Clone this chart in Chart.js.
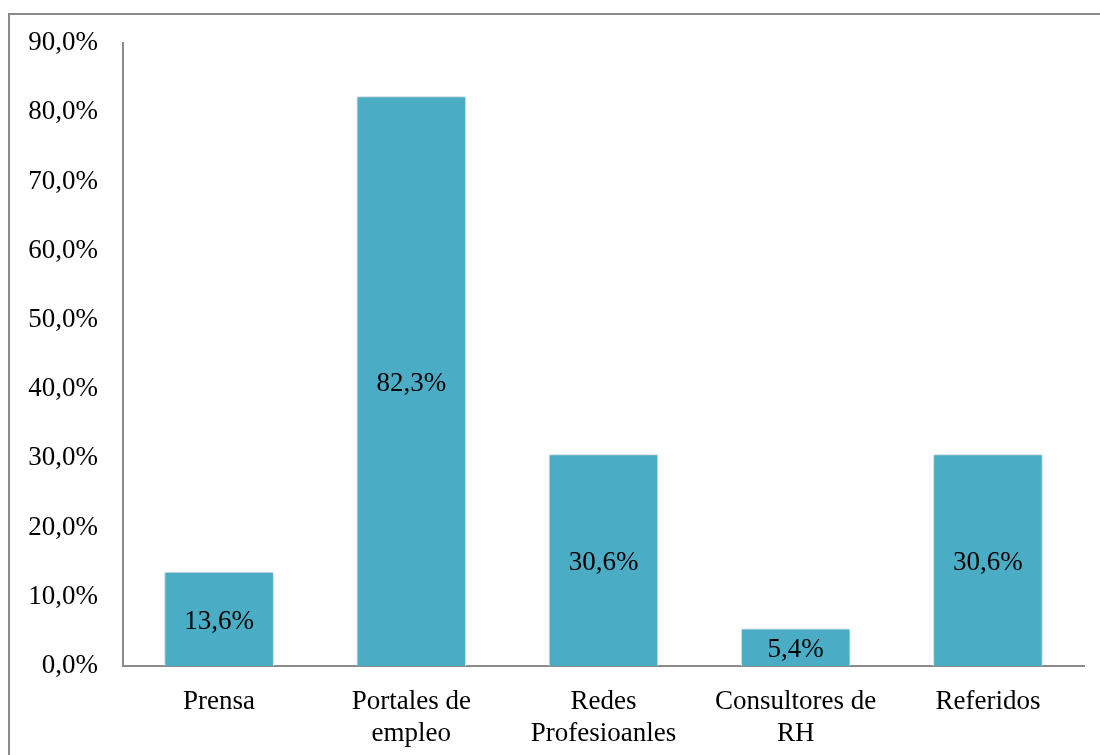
<!DOCTYPE html>
<html>
<head>
    <title>Canales de búsqueda</title>
    <script src="https://cdn.jsdelivr.net/npm/chart.js"></script>
    <style>
        body { margin: 0; background: #fff; overflow: hidden; }
        #frame { position: absolute; left: 8px; top: 13px; width: 1200px; height: 900px; border: 2px solid #8a8a8a; box-sizing: border-box; }
        #wrap { position: absolute; left: 0; top: 0; width: 1100px; height: 755px; }
    </style>
</head>
<body>
    <div id="frame"></div>
    <div id="wrap"><canvas id="barChart" width="1100" height="755"></canvas></div>

    <script>
        // values
        const categories = [['Prensa'], ['Portales de', 'empleo'], ['Redes', 'Profesioanles'], ['Consultores de', 'RH'], ['Referidos']];
        const percentages = [13.6, 82.3, 30.6, 5.4, 30.6];

        const FONT = 'Liberation Serif';
        const fmt = v => v.toFixed(1).replace('.', ',') + '%';

        // labels in the middle of each bar
        const barLabels = {
            id: 'barLabels',
            afterDatasetsDraw(chart) {
                const ctx = chart.ctx;
                const meta = chart.getDatasetMeta(0);
                ctx.save();
                ctx.font = '27px "' + FONT + '"';
                ctx.fillStyle = '#000';
                ctx.textAlign = 'center';
                ctx.textBaseline = 'middle';
                meta.data.forEach((bar, i) => {
                    ctx.fillText(fmt(percentages[i]), bar.x, (bar.y + bar.base) / 2 + 3);
                });
                ctx.restore();
            }
        };

        // soft shadow round the bars
        const barShadow = {
            id: 'barShadow',
            beforeDatasetsDraw(chart) {
                const ctx = chart.ctx;
                ctx.save();
                ctx.shadowColor = 'rgba(0,0,0,0.25)';
                ctx.shadowBlur = 5;
            },
            afterDatasetsDraw(chart) {
                chart.ctx.restore();
            }
        };

        const ctx = document.getElementById('barChart').getContext('2d');
        new Chart(ctx, {
            type: 'bar',
            data: {
                labels: categories,
                datasets: [{
                    data: percentages,
                    backgroundColor: '#4bacc6',
                    borderColor: '#e8f4f8',
                    borderWidth: 1,
                    categoryPercentage: 1,
                    barPercentage: 0.57
                }]
            },
            options: {
                responsive: false,
                animation: false,
                layout: { padding: { left: 0, right: 16, top: 43, bottom: 0 } },
                plugins: {
                    legend: { display: false },
                    tooltip: { enabled: false }
                },
                scales: {
                    x: {
                        grid: { display: false, drawTicks: false },
                        border: { color: '#8a8a8a', width: 2 },
                        ticks: {
                            color: '#000',
                            padding: 20,
                            maxRotation: 0,
                            font: { family: FONT, size: 27, lineHeight: 1.19 }
                        },
                        afterFit: s => { s.height = 89; }
                    },
                    y: {
                        min: 0,
                        max: 90,
                        grid: { display: false, drawTicks: false },
                        border: { color: '#8a8a8a', width: 2 },
                        ticks: {
                            stepSize: 10,
                            color: '#000',
                            padding: 25,
                            font: { family: FONT, size: 27 },
                            callback: v => fmt(v)
                        },
                        afterFit: s => { s.width = 123; }
                    }
                }
            },
            plugins: [barShadow, barLabels]
        });
    </script>
</body>
</html>
